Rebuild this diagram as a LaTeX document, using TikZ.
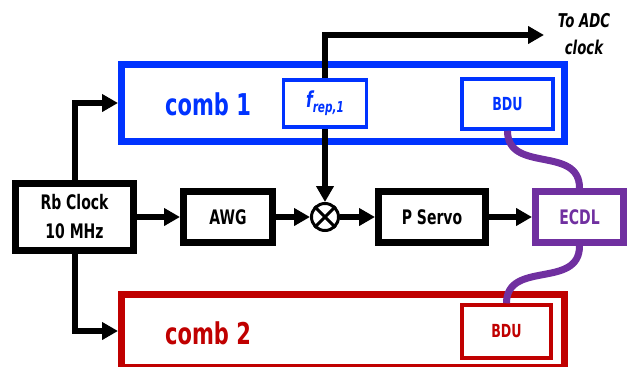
\documentclass[tikz,border=0pt]{standalone}
\usepackage{fontspec}
\setmainfont{DejaVu Sans}[FakeStretch=0.7]
\usepackage{xcolor}
\usepackage{tikz}
\usetikzlibrary{arrows.meta}

\definecolor{combblue}{RGB}{0,51,255}
\definecolor{combred}{RGB}{192,0,0}
\definecolor{laserpurple}{RGB}{112,48,160}

\begin{document}
\begin{tikzpicture}[
    x=1pt, y=-1pt,
    every node/.style={inner sep=0pt, align=center, font=\bfseries\fontsize{20}{29}\selectfont},
    link/.style={line width=6pt, -{Triangle[length=16pt, width=17pt]}}
]
\tikzset{
    blackbox/.style={draw=black, line width=7pt, fill=white},
    bluebig/.style={draw=combblue, line width=7pt},
    bluesmall/.style={draw=combblue, text=combblue, line width=3.5pt, fill=white},
    redbig/.style={draw=combred, line width=7pt},
    redsmall/.style={draw=combred, text=combred, line width=3.5pt, fill=white},
    purplebox/.style={draw=laserpurple, text=laserpurple, line width=7pt, fill=white},
    fiber/.style={draw=laserpurple, line width=7pt},
    bigname/.style={font=\bfseries\fontsize{30}{32}\selectfont},
    smallname/.style={font=\bfseries\fontsize{18}{18}\selectfont}
}
\useasboundingbox (0,0) rectangle (627,367);

% the two combs
\node[bluebig, minimum width=443pt, minimum height=77pt] (comb1) at (343,103) {};
\node[bigname, text=combblue] (name1) at (208,104) {comb 1};
\node[bluesmall, minimum width=83pt, minimum height=47pt] (frep) at (325,103.5)
    {\itshape\fontsize{22}{22}\selectfont f\raisebox{-5pt}{\fontsize{15}{15}\selectfont rep,1}};
\node[bluesmall, smallname, minimum width=91pt, minimum height=50pt] (bdu1) at (507.5,104) {BDU};

\node[redbig, minimum width=443pt, minimum height=73pt] (comb2) at (343,331) {};
\node[bigname, text=combred] (name2) at (208,333) {comb 2};
\node[redsmall, smallname, minimum width=89pt, minimum height=53pt] (bdu2) at (506.5,331.5) {BDU};

% locking chain
\node[blackbox, minimum width=118pt, minimum height=67pt] (rb) at (74.5,217) {Rb Clock\\10 MHz};
\node[blackbox, minimum width=89pt, minimum height=51pt] (awg) at (228,217) {AWG};
\node[draw, circle, line width=3pt, minimum size=27pt] (mix) at (325,217) {};
\draw[line width=3pt] (mix.45) -- (mix.225) (mix.135) -- (mix.315);
\node[blackbox, minimum width=107pt, minimum height=51pt] (servo) at (432,217) {P Servo};
\node[purplebox, minimum width=88pt, minimum height=51pt] (ecdl) at (579.5,217) {ECDL};

\node[font=\bfseries\itshape\fontsize{19}{27}\selectfont] (adc) at (584,34) {To ADC\\clock};
\coordinate (adcend) at (544,35);

\draw[link] (rb.north) |- (comb1.west);
\draw[link] (rb.south) |- (comb2.west);
\draw[link] (rb) -- (awg);
\draw[link] (awg) -- (mix);
\draw[link] (mix) -- (servo);
\draw[link] (servo) -- (ecdl);
\draw[link] (frep) -- (mix);
\draw[link] (frep.north) |- (adcend);

% beat detection fibers
\draw[fiber] (bdu1.south) to[out=-90, in=90, looseness=1.2] (ecdl.north);
\draw[fiber] (ecdl.south) to[out=-90, in=90, looseness=1.2] (bdu2.north);
\end{tikzpicture}
\end{document}
